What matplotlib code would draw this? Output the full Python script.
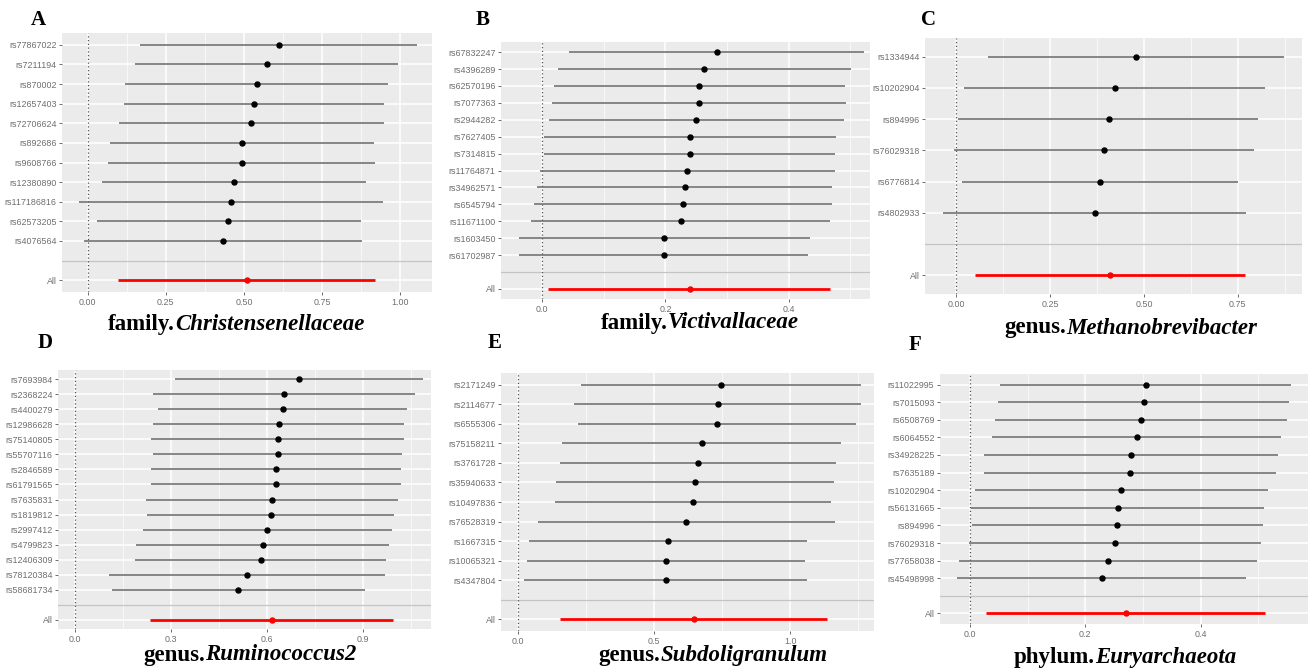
import matplotlib.pyplot as plt
import numpy as np

# ---------------- data (leave-one-out estimates) ----------------
snps_a = ["rs77867022", "rs7211194", "rs870002", "rs12657403", "rs72706624", "rs892686",
          "rs9608766", "rs12380890", "rs117186816", "rs62573205", "rs4076564"]
est_a = [0.612, 0.573, 0.541, 0.532, 0.522, 0.494, 0.493, 0.469, 0.457, 0.450, 0.432]
lo_a = [0.168, 0.153, 0.121, 0.116, 0.099, 0.072, 0.065, 0.047, -0.029, 0.029, -0.011]
hi_a = [1.053, 0.993, 0.961, 0.948, 0.947, 0.916, 0.919, 0.890, 0.945, 0.873, 0.877]
all_a = [0.098, 0.509, 0.919]

snps_b = ["rs67832247", "rs4396289", "rs62570196", "rs7077363", "rs2944282", "rs7627405",
          "rs7314815", "rs11764871", "rs34962571", "rs6545794", "rs11671100", "rs1603450",
          "rs61702987"]
est_b = [0.284, 0.263, 0.255, 0.254, 0.250, 0.239, 0.239, 0.235, 0.231, 0.229, 0.225, 0.198, 0.197]
lo_b = [0.044, 0.025, 0.019, 0.016, 0.011, 0.002, 0.002, -0.004, -0.008, -0.013, -0.018, -0.038, -0.038]
hi_b = [0.523, 0.501, 0.492, 0.493, 0.489, 0.477, 0.475, 0.475, 0.470, 0.471, 0.467, 0.434, 0.432]
all_b = [0.009, 0.239, 0.467]

snps_c = ["rs1334944", "rs10202904", "rs894996", "rs76029318", "rs6776814", "rs4802933"]
est_c = [0.480, 0.422, 0.406, 0.394, 0.383, 0.369]
lo_c = [0.084, 0.020, 0.005, -0.005, 0.015, -0.036]
hi_c = [0.874, 0.822, 0.805, 0.793, 0.751, 0.772]
all_c = [0.049, 0.409, 0.768]

snps_d = ["rs7693984", "rs2368224", "rs4400279", "rs12986628", "rs75140805", "rs55707116",
          "rs2846589", "rs61791565", "rs7635831", "rs1819812", "rs2997412", "rs4799823",
          "rs12406309", "rs78120384", "rs58681734"]
est_d = [0.701, 0.654, 0.649, 0.637, 0.634, 0.633, 0.628, 0.627, 0.617, 0.611, 0.601, 0.588,
         0.581, 0.538, 0.510]
lo_d = [0.312, 0.242, 0.258, 0.244, 0.238, 0.242, 0.237, 0.236, 0.221, 0.224, 0.211, 0.191,
        0.188, 0.105, 0.115]
hi_d = [1.087, 1.063, 1.039, 1.027, 1.030, 1.021, 1.018, 1.018, 1.009, 0.996, 0.992, 0.983,
        0.973, 0.970, 0.905]
all_d = [0.233, 0.615, 0.995]

snps_e = ["rs2171249", "rs2114677", "rs6555306", "rs75158211", "rs3761728", "rs35940633",
          "rs10497836", "rs76528319", "rs1667315", "rs10065321", "rs4347804"]
est_e = [0.748, 0.736, 0.733, 0.675, 0.663, 0.652, 0.645, 0.619, 0.553, 0.546, 0.543]
lo_e = [0.232, 0.208, 0.220, 0.162, 0.154, 0.142, 0.138, 0.073, 0.043, 0.033, 0.023]
hi_e = [1.261, 1.262, 1.243, 1.186, 1.170, 1.160, 1.150, 1.164, 1.061, 1.056, 1.061]
all_e = [0.154, 0.646, 1.136]

snps_f = ["rs11022995", "rs7015093", "rs6508769", "rs6064552", "rs34928225", "rs7635189",
          "rs10202904", "rs56131665", "rs894996", "rs76029318", "rs77658038", "rs45498998"]
est_f = [0.305, 0.302, 0.297, 0.289, 0.279, 0.278, 0.262, 0.256, 0.255, 0.252, 0.240, 0.229]
lo_f = [0.052, 0.049, 0.043, 0.038, 0.024, 0.025, 0.008, 0.002, 0.003, -0.001, -0.019, -0.022]
hi_f = [0.557, 0.553, 0.549, 0.540, 0.534, 0.531, 0.516, 0.509, 0.508, 0.504, 0.498, 0.479]
all_f = [0.027, 0.270, 0.512]

title_rank = ["family.", "family.", "genus.", "genus.", "genus.", "phylum."]
title_taxon = ["Christensenellaceae", "Victivallaceae", "Methanobrevibacter",
               "Ruminococcus2", "Subdoligranulum", "Euryarchaeota"]
letters = ["A", "B", "C", "D", "E", "F"]
xticks = [[0.0, 0.25, 0.5, 0.75, 1.0], [0.0, 0.2, 0.4], [0.0, 0.25, 0.5, 0.75],
          [0.0, 0.3, 0.6, 0.9], [0.0, 0.5, 1.0], [0.0, 0.2, 0.4]]
xfmt = ["{:.2f}", "{:.1f}", "{:.2f}", "{:.1f}", "{:.1f}", "{:.1f}"]
xlims = [(-0.082, 1.101), (-0.067, 0.532), (-0.083, 0.921),
         (-0.054, 1.113), (-0.061, 1.308), (-0.052, 0.586)]

# ---------------- layout (pixel boxes of each panel) ----------------
W, H = 1309, 672
boxes = [(62, 432, 33, 292), (501, 870, 42, 299), (925, 1302, 38, 294),
         (58, 431, 370, 629), (501, 874, 373, 631), (940, 1308, 374, 624)]
letter_pos = [(38, 20), (483, 20), (928, 20), (45, 343), (495, 343), (915, 345)]
title_pos = [(236, 324), (700, 323), (1131, 328), (250, 655), (713, 655), (1125, 657)]

panels = [
    (snps_a, est_a, lo_a, hi_a, all_a),
    (snps_b, est_b, lo_b, hi_b, all_b),
    (snps_c, est_c, lo_c, hi_c, all_c),
    (snps_d, est_d, lo_d, hi_d, all_d),
    (snps_e, est_e, lo_e, hi_e, all_e),
    (snps_f, est_f, lo_f, hi_f, all_f),
]

fig = plt.figure(figsize=(W / 100, H / 100), dpi=100)
renderer = fig.canvas.get_renderer()

for i, (snps, est, lo, hi, overall) in enumerate(panels):
    x0, x1, y0, y1 = boxes[i]
    ax = fig.add_axes([x0 / W, 1 - y1 / H, (x1 - x0) / W, (y1 - y0) / H])
    ax.set_facecolor("#EBEBEB")
    for s in ax.spines.values():
        s.set_visible(False)

    n = len(snps)
    ypos = np.arange(n + 2, 2, -1)  # SNPs at n+2 .. 3, separator at 2, All at 1

    ax.set_xlim(*xlims[i])
    ax.set_ylim(0.4, n + 2.6)

    # ggplot-like grid
    tks = xticks[i]
    step = tks[1] - tks[0]
    for m in np.arange(tks[0] - step / 2, xlims[i][1], step):
        ax.axvline(m, color="white", lw=0.5, zorder=0)
    for t in tks:
        ax.axvline(t, color="white", lw=1.1, zorder=0)
    for yy in list(ypos) + [1]:
        ax.axhline(yy, color="white", lw=1.1, zorder=0)
    ax.axhline(2, color="#C4C4C4", lw=0.9, zorder=1)
    ax.axvline(0, color="#555555", lw=0.9, ls=(0, (1, 2)), zorder=1)

    ax.hlines(ypos, lo, hi, color="#666666", lw=1.1, zorder=2)
    ax.plot(est, ypos, "o", color="black", ms=3.6, zorder=3)
    ax.hlines(1, overall[0], overall[2], color="#FF0000", lw=2.0, zorder=2)
    ax.plot(overall[1], 1, "o", color="#FF0000", ms=3.6, zorder=3)

    ax.set_xticks(tks)
    ax.set_xticklabels([xfmt[i].format(t) for t in tks])
    ax.set_yticks(list(ypos) + [1])
    ax.set_yticklabels(snps + ["All"])
    ax.tick_params(axis="both", length=2, width=0.6, color="#555555",
                   labelsize=6.4, labelcolor="#6E6E6E", pad=2)
    for lab in ax.get_xticklabels() + ax.get_yticklabels():
        lab.set_fontfamily("Liberation Sans")

    lx, ly = letter_pos[i]
    fig.text(lx / W, 1 - ly / H, letters[i], ha="center", va="center",
             fontsize=15, fontweight="bold", family="Liberation Serif")

    # title: bold rank + bold italic taxon, centred as one piece
    tx, ty = title_pos[i]
    t1 = fig.text(0, 1 - ty / H, title_rank[i], ha="left", va="center", fontsize=16.5,
                  fontweight="bold", family="Liberation Serif")
    t2 = fig.text(0, 1 - ty / H, title_taxon[i], ha="left", va="center", fontsize=16.5,
                  fontweight="bold", fontstyle="italic", family="Liberation Serif")
    w1 = t1.get_window_extent(renderer).width
    w2 = t2.get_window_extent(renderer).width
    start = tx - (w1 + w2) / 2
    t1.set_x(start / W)
    t2.set_x((start + w1) / W)

fig.savefig("out.png", dpi=100)
